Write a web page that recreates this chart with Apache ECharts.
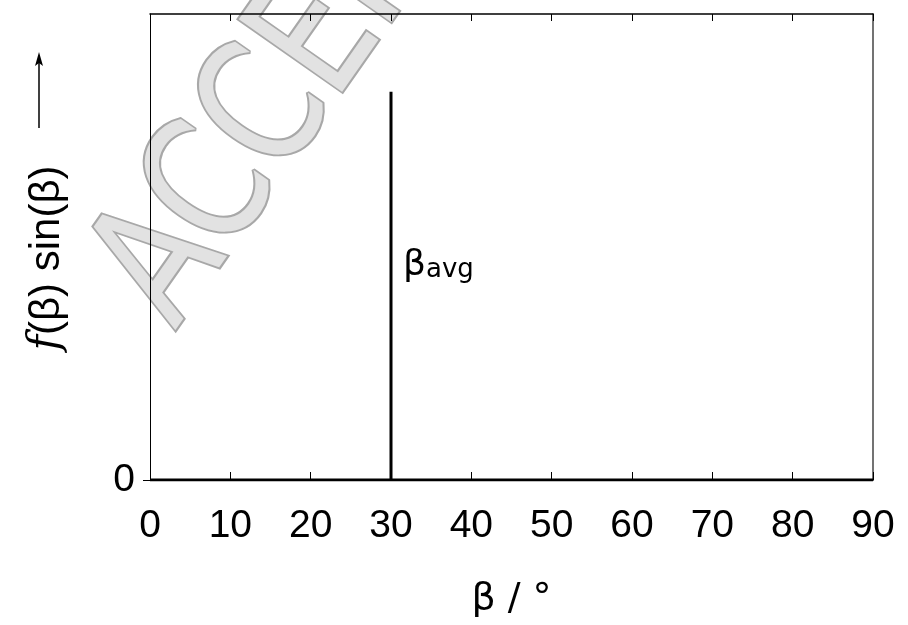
<!DOCTYPE html>
<html><head><meta charset="utf-8">
<script src="https://cdn.jsdelivr.net/npm/echarts@6/dist/echarts.min.js"></script>
<style>html,body{margin:0;padding:0;background:#fff}#c{width:908px;height:625px}</style>
</head><body><div id="c"></div>
<script>
// ---- data ----
const xMin = 0, xMax = 90, xStep = 10;
const yMin = 0, yMax = 1;
const yTickLabels = [0];
const baselineBeta = [0, 90];
const baselineValue = [0, 0];
const betaAvg = 30;
const spikeValues = [0, 0.833];
const avgLabelValue = 0.461;
const avgLabelMain = 'β';
const avgLabelSub = 'avg';
const xAxisName = 'β / °';
const watermarkText = 'ACCEPTED';

const chart = echarts.init(document.getElementById('c'), null, {renderer: 'canvas'});
const AX = 'Liberation Sans';
const option = {
  animation: false,
  backgroundColor: '#fff',
  grid: {left: 150, right: 35, top: 14, bottom: 145, containLabel: false},
  xAxis: [{
    type: 'value', min: xMin, max: xMax, interval: xStep, position: 'bottom',
    axisLine: {show: true, onZero: false, lineStyle: {color: '#000', width: 1}},
    axisTick: {show: true, inside: true, length: 8, lineStyle: {color: '#000', width: 1}},
    axisLabel: {show: true, fontFamily: AX, fontSize: 39, color: '#000', margin: 27},
    splitLine: {show: false},
    name: xAxisName, nameLocation: 'middle', nameGap: 100,
    nameTextStyle: {fontFamily: 'DejaVu Sans', fontSize: 38, color: '#000'}
  }, {
    type: 'value', min: xMin, max: xMax, interval: xStep, position: 'top',
    axisLine: {show: true, onZero: false, lineStyle: {color: '#000', width: 1.5}},
    axisTick: {show: true, inside: true, length: 7, lineStyle: {color: '#000', width: 1}},
    axisLabel: {show: false}, splitLine: {show: false}
  }],
  yAxis: [{
    type: 'value', min: yMin, max: yMax, position: 'left',
    axisLine: {show: true, onZero: false, lineStyle: {color: '#000', width: 1}},
    axisTick: {show: true, inside: false, length: 7, customValues: yTickLabels, lineStyle: {color: '#000'}},
    axisLabel: {show: true, customValues: yTickLabels, fontFamily: AX, fontSize: 39, color: '#000', margin: 15},
    splitLine: {show: false}
  }, {
    type: 'value', min: yMin, max: yMax, position: 'right',
    axisLine: {show: true, onZero: false, lineStyle: {color: '#444', width: 1.5}},
    axisTick: {show: false}, axisLabel: {show: false}, splitLine: {show: false}
  }],
  graphic: [{
    type: 'text', z: -10, x: 138, y: 305, rotation: 55 * Math.PI / 180, scaleY: 1.28,
    style: {
      text: watermarkText, font: '135px "DejaVu Sans"', fill: '#e2e2e2',
      stroke: '#a8a8a8', lineWidth: 3.5, align: 'left', verticalAlign: 'middle',
      shadowBlur: 4, shadowColor: 'rgba(0,0,0,0.35)', shadowOffsetX: 2, shadowOffsetY: 3
    }
  }, {
    type: 'text', x: 47, y: 258, rotation: Math.PI / 2,
    style: {
      text: '{f|f}{t|(β) sin(β)}',
      rich: {
        f: {fontFamily: 'DejaVu Serif', fontStyle: 'italic', fontSize: 42, fill: '#000'},
        t: {fontFamily: AX, fontSize: 42, fill: '#000'}
      },
      align: 'center', verticalAlign: 'middle'
    }
  }, {
    type: 'line', shape: {x1: 39, y1: 128, x2: 39, y2: 56},
    style: {stroke: '#000', lineWidth: 1.5}
  }, {
    type: 'polygon', shape: {points: [[39, 52], [35, 66], [39, 63], [43, 66]]},
    style: {fill: '#000'}
  }],
  series: [{
    type: 'line', xAxisIndex: 0, yAxisIndex: 0, symbol: 'none',
    data: baselineBeta.map((b, i) => [b, baselineValue[i]]),
    lineStyle: {color: '#000', width: 3}, z: 5
  }, {
    type: 'line', xAxisIndex: 0, yAxisIndex: 0, symbol: 'none',
    data: spikeValues.map(v => [betaAvg, v]),
    lineStyle: {color: '#000', width: 3}, z: 5
  }, {
    type: 'scatter', xAxisIndex: 0, yAxisIndex: 0, symbolSize: 0,
    itemStyle: {opacity: 1, color: '#000'},
    data: [[betaAvg, avgLabelValue]],
    label: {
      show: true, position: 'right', distance: 12, color: '#000', opacity: 1,
      formatter: '{b|' + avgLabelMain + '}{s|' + avgLabelSub + '}',
      rich: {
        b: {fontFamily: 'DejaVu Sans', fontSize: 36, color: '#000', lineHeight: 36, verticalAlign: 'top'},
        s: {fontFamily: 'DejaVu Sans', fontSize: 26, color: '#000', lineHeight: 22, verticalAlign: 'bottom', padding: [18, 0, 0, 0]}
      }
    }
  }]
};
chart.setOption(option);
</script></body></html>
